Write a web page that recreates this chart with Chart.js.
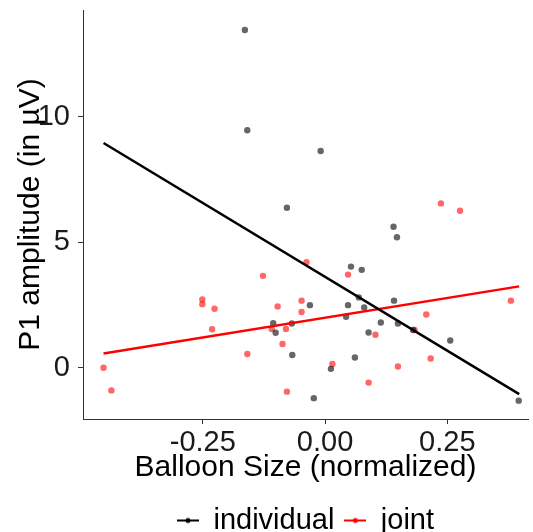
<!DOCTYPE html>
<html><head><meta charset="utf-8">
<script src="https://cdn.jsdelivr.net/npm/chart.js@4/dist/chart.umd.min.js"></script>
<style>html,body{margin:0;padding:0;background:#fff}</style>
</head><body>
<canvas id="c" width="533" height="532"></canvas>
<script>
const seriesNames = ['individual', 'joint'];
const individualX = [-0.164, -0.159, -0.009, -0.078, 0.140, 0.147, 0.053, 0.075, -0.031, 0.047, 0.069, 0.080, 0.043, 0.141, 0.114, 0.149, 0.089, 0.180, 0.256, 0.061, 0.012, -0.023, 0.396, -0.106, -0.101, -0.068, -0.067];
const individualY = [13.47, 9.47, 8.64, 6.38, 5.62, 5.20, 4.03, 3.90, 2.49, 2.49, 2.80, 2.40, 2.03, 2.67, 1.80, 1.76, 1.40, 1.50, 1.08, 0.40, -0.05, -1.22, -1.32, 1.77, 1.39, 1.76, 0.50];
const jointX = [0.237, 0.276, -0.038, -0.127, 0.047, -0.251, -0.251, -0.226, -0.097, -0.048, -0.048, -0.231, -0.109, -0.080, -0.087, -0.159, -0.453, -0.437, -0.078, 0.015, 0.103, 0.089, 0.207, 0.183, 0.380, 0.216, 0.149];
const jointY = [6.55, 6.26, 4.20, 3.66, 3.71, 2.72, 2.53, 2.35, 2.44, 2.67, 2.22, 1.53, 1.54, 1.54, 0.94, 0.54, -0.01, -0.91, -0.96, 0.14, 1.31, -0.60, 2.12, 1.50, 2.67, 0.36, 0.04];
const fitX = [-0.453, 0.397];
const individualFit = [8.96, -1.06];
const jointFit = [0.56, 3.24];
const xTicks = [-0.25, 0, 0.25];
const yTicks = [0, 5, 10];
const xTitle = 'Balloon Size (normalized)';
const yTitle = 'P1 amplitude (in µV)';

const FONT = "'Liberation Sans', Arial, sans-serif";
const toPts = (xs, ys) => xs.map((x, i) => ({x: x, y: ys[i]}));

function glyph(color) {
  const c = document.createElement('canvas');
  c.width = 22; c.height = 8;
  const g = c.getContext('2d');
  g.strokeStyle = color; g.lineWidth = 2;
  g.beginPath(); g.moveTo(0, 4); g.lineTo(22, 4); g.stroke();
  g.fillStyle = color;
  g.beginPath(); g.arc(11, 4, 2.5, 0, Math.PI * 2); g.fill();
  return c;
}
const glyphs = [glyph('#000000'), glyph('#ff0000')];

new Chart(document.getElementById('c'), {
  type: 'scatter',
  data: {
    datasets: [
      {label: seriesNames[0], type: 'line', data: toPts(fitX, individualFit), borderColor: '#000', borderWidth: 2.5, pointRadius: 0, fill: false, tension: 0},
      {label: seriesNames[1], type: 'line', data: toPts(fitX, jointFit), borderColor: '#ff0000', borderWidth: 2.5, pointRadius: 0, fill: false, tension: 0},
      {label: seriesNames[0] + ' points', data: toPts(individualX, individualY), backgroundColor: 'rgba(0,0,0,0.6)', borderWidth: 0, pointRadius: 3.2},
      {label: seriesNames[1] + ' points', data: toPts(jointX, jointY), backgroundColor: 'rgba(255,0,0,0.6)', borderWidth: 0, pointRadius: 3.2}
    ]
  },
  options: {
    responsive: false,
    animation: false,
    layout: {padding: {top: 10, right: 5, left: 0, bottom: -13}},
    plugins: {
      tooltip: {enabled: false},
      legend: {
        position: 'bottom',
        fullSize: false,
        labels: {
          font: {family: FONT, size: 29},
          color: '#000',
          usePointStyle: true,
          pointStyleWidth: 22,
          boxHeight: 8,
          padding: 10,
          generateLabels: () => seriesNames.map((n, i) => ({text: n, pointStyle: glyphs[i], fillStyle: 'transparent', strokeStyle: 'transparent', lineWidth: 0, datasetIndex: i, hidden: false}))
        }
      }
    },
    scales: {
      x: {
        type: 'linear', min: -0.495, max: 0.415,
        afterBuildTicks: s => { s.ticks = xTicks.map(v => ({value: v})); },
        afterFit: s => { s.height = 77; s.paddingLeft = 0; s.paddingRight = 0; },
        ticks: {font: {family: FONT, size: 29}, color: '#1a1a1a', padding: 2, callback: v => v.toFixed(2)},
        grid: {drawOnChartArea: false, drawTicks: true, tickLength: 5, color: '#333'},
        border: {display: true, color: '#333', width: 1},
        title: {display: true, text: xTitle, font: {family: FONT, size: 30}, color: '#000', padding: {top: 0, bottom: 10}}
      },
      y: {
        type: 'linear', min: -2.052, max: 14.268,
        afterBuildTicks: s => { s.ticks = yTicks.map(v => ({value: v})); },
        afterFit: s => { s.width = 83; s.paddingTop = 0; s.paddingBottom = 0; },
        ticks: {font: {family: FONT, size: 29}, color: '#1a1a1a', padding: 8},
        grid: {drawOnChartArea: false, drawTicks: true, tickLength: 5, color: '#333'},
        border: {display: true, color: '#333', width: 1},
        title: {display: true, text: yTitle, font: {family: FONT, size: 30}, color: '#000', padding: {top: 13, bottom: 0}}
      }
    }
  }
});
</script>
</body></html>
